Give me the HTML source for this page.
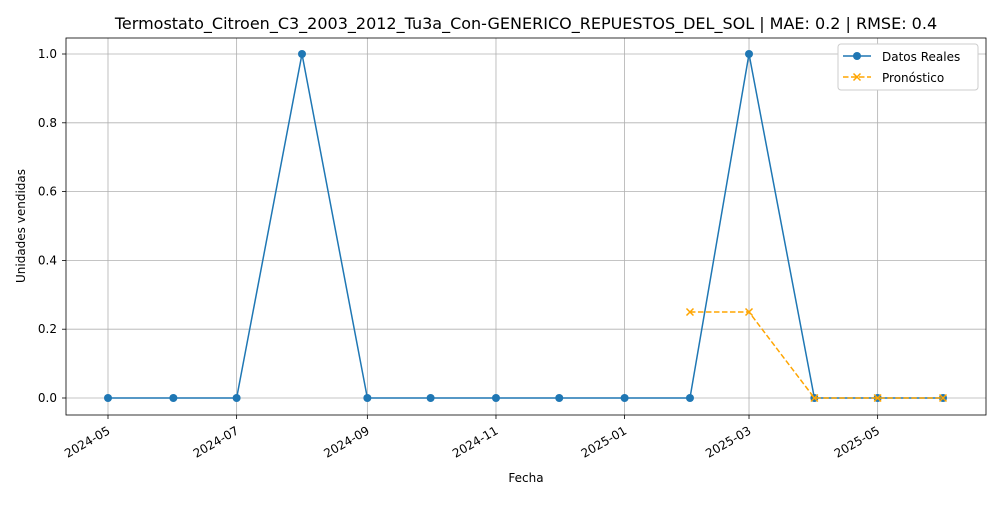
<!DOCTYPE html>
<html><head><meta charset="utf-8"><style>
body{margin:0;background:#fff;font-family:"Liberation Sans","DejaVu Sans",sans-serif;}
svg text{font-family:"DejaVu Sans","Liberation Sans",sans-serif;}
</style></head><body>
<svg id="chart" width="1000" height="500" xmlns="http://www.w3.org/2000/svg"></svg>
<script>
const dates=["2024-05-01","2024-06-01","2024-07-01","2024-08-01","2024-09-01","2024-10-01","2024-11-01","2024-12-01","2025-01-01","2025-02-01","2025-03-01","2025-04-01","2025-05-01","2025-06-01"];
const realValues=[0,0,0,1,0,0,0,0,0,0,1,0,0,0];
const fcDates=["2025-02-01","2025-03-01","2025-04-01","2025-05-01","2025-06-01"];
const fcValues=[0.25,0.25,0,0,0];
const xTicks=["2024-05","2024-07","2024-09","2024-11","2025-01","2025-03","2025-05"];
const yTicks=[0,0.2,0.4,0.6,0.8,1.0];
const svg=document.getElementById('chart');
const NS='http://www.w3.org/2000/svg';
const L=66,R=986,T=38,B=415;
const d0=Date.parse("2024-05-01"),d1=Date.parse("2025-06-01");
function x(d){const t=Date.parse(d.length===7?d+"-01":d);return 108+(t-d0)/(d1-d0)*835;}
function y(v){return 398-v*344;}
function el(tag,attrs,parent){const e=document.createElementNS(NS,tag);for(const k in attrs)e.setAttribute(k,attrs[k]);(parent||svg).appendChild(e);return e;}
yTicks.forEach(v=>{const g=el('line',{x1:L,x2:R,y1:y(v),y2:y(v),stroke:'#b0b0b0','stroke-width':0.8});


el('line',{x1:L-4,x2:L,y1:y(v),y2:y(v),stroke:'#000','stroke-width':0.8});
const t=el('text',{x:L-9,y:y(v)+4,'text-anchor':'end','font-size':12});t.textContent=v.toFixed(1);

});
xTicks.forEach(d=>{const xx=x(d);const g=el('line',{x1:xx,x2:xx,y1:T,y2:B,stroke:'#b0b0b0','stroke-width':0.8});


el('line',{x1:xx,x2:xx,y1:B,y2:B+4,stroke:'#000','stroke-width':0.8});
const t=el('text',{x:xx+3,y:B+18,'text-anchor':'end','font-size':12,transform:`rotate(-30 ${xx+3} ${B+18})`});t.textContent=d;

});
const fr=el('rect',{x:L,y:T,width:R-L,height:B-T,fill:'none',stroke:'#000','stroke-width':0.8});


const rp=el('polyline',{points:dates.map((d,i)=>x(d)+','+y(realValues[i])).join(' '),fill:'none',stroke:'#1f77b4','stroke-width':1.5});


dates.forEach((d,i)=>{const c=el('circle',{cx:x(d),cy:y(realValues[i]),r:4,fill:'#1f77b4'});

});
const fp=el('polyline',{points:fcDates.map((d,i)=>x(d)+','+y(fcValues[i])).join(' '),fill:'none',stroke:'#ffa500','stroke-width':1.5,'stroke-dasharray':'5.5,2.5'});


fcDates.forEach((d,i)=>{const cx=x(d),cy=y(fcValues[i]);const p=el('path',{d:`M${cx-3.5},${cy-3.5}L${cx+3.5},${cy+3.5}M${cx-3.5},${cy+3.5}L${cx+3.5},${cy-3.5}`,stroke:'#ffa500','stroke-width':1.5});

});
function txt(s,a,name){const t=el('text',a);t.textContent=s;return t;}
txt('Termostato_Citroen_C3_2003_2012_Tu3a_Con-GENERICO_REPUESTOS_DEL_SOL | MAE: 0.2 | RMSE: 0.4',{x:526,y:29,'text-anchor':'middle','font-size':16},'chart-title');
txt('Fecha',{x:526,y:482,'text-anchor':'middle','font-size':12},'x-axis-title');
txt('Unidades vendidas',{x:25,y:226,'text-anchor':'middle','font-size':12,transform:'rotate(-90 25 226)'},'y-axis-title');
const lg=el('rect',{x:838,y:44,width:140,height:46,rx:3,fill:'#fff',stroke:'#ccc'});


el('line',{x1:843,x2:871,y1:56,y2:56,stroke:'#1f77b4','stroke-width':1.5});
el('circle',{cx:857,cy:56,r:4,fill:'#1f77b4'});
txt('Datos Reales',{x:882,y:61,'font-size':12},'legend-entry-real');
el('line',{x1:843,x2:871,y1:77,y2:77,stroke:'#ffa500','stroke-width':1.5,'stroke-dasharray':'5.5,2.5'});
el('path',{d:'M853.5,73.5L860.5,80.5M853.5,80.5L860.5,73.5',stroke:'#ffa500','stroke-width':1.5});
txt('Pronóstico',{x:882,y:82,'font-size':12},'legend-entry-forecast');
</script>
</body></html>
